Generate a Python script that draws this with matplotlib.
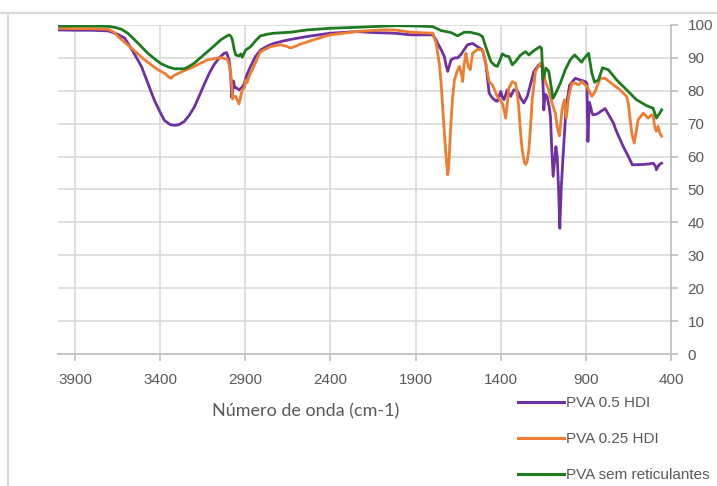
import matplotlib
matplotlib.use("Agg")
import matplotlib.pyplot as plt
from matplotlib.lines import Line2D

# PVA 0.5 HDI
wn_05 = [3997, 3900, 3800, 3705, 3650, 3608, 3560, 3510, 3470, 3433, 3400, 3375, 3340, 3316, 3290,
         3258, 3230, 3200, 3170, 3141, 3110, 3083, 3050, 3024, 3010, 2995, 2985, 2980, 2975, 2970,
         2962, 2956, 2937, 2920, 2908, 2890, 2869, 2840, 2810, 2770, 2733, 2680, 2635, 2538, 2402,
         2246, 2150, 2023, 1925, 1799, 1780, 1770, 1750, 1731, 1720, 1711, 1700, 1692, 1670, 1653,
         1634, 1615, 1595, 1565, 1536, 1507, 1488, 1478, 1468, 1449, 1430, 1420, 1400, 1390, 1381,
         1361, 1342, 1322, 1303, 1283, 1264, 1244, 1225, 1205, 1176, 1157, 1150, 1147, 1140, 1128,
         1115, 1108, 1100, 1092, 1085, 1076, 1068, 1060, 1053, 1045, 1034, 1022, 1014, 995, 962,
         933, 904, 894, 888, 880, 871, 865, 859, 836, 787, 738, 723, 680, 650, 627,
         563, 525, 505, 490, 486, 476, 466, 455]
t_05 = [98.5, 98.4, 98.4, 98.2, 97.2, 96.0, 92.0, 87.4, 82.0, 77.0, 73.5, 71.0, 69.7, 69.5, 69.7,
        70.7, 72.5, 75.0, 78.5, 82.0, 85.5, 88.0, 90.2, 91.4, 91.6, 89.4, 84.0, 78.0, 79.5, 83.0,
        81.0, 81.0, 80.3, 81.0, 82.0, 85.0, 87.4, 90.5, 92.4, 93.6, 94.4, 95.1, 95.6, 96.5, 97.5,
        98.0, 97.7, 97.5, 97.0, 97.0, 95.5, 94.4, 92.5, 90.4, 87.5, 85.9, 88.0, 89.4, 90.0, 90.0,
        91.0, 92.5, 94.0, 94.4, 93.4, 92.4, 88.4, 84.0, 79.3, 77.8, 77.0, 76.8, 79.8, 78.0, 77.3,
        80.3, 78.3, 80.3, 80.1, 77.8, 76.3, 78.3, 82.0, 85.9, 87.9, 87.4, 80.0, 74.2, 79.0, 78.3,
        75.0, 72.2, 62.0, 54.0, 58.0, 63.0, 60.0, 50.0, 38.2, 50.0, 60.0, 70.0, 76.0, 81.8, 83.8,
        83.3, 82.8, 82.3, 64.6, 76.5, 75.0, 73.5, 72.7, 72.9, 74.6, 70.2, 68.0, 63.0, 60.0, 57.5,
        57.6, 57.8, 58.0, 57.0, 56.0, 57.0, 57.7, 58.0]

# PVA 0.25 HDI
wn_025 = [3997, 3900, 3800, 3705, 3670, 3647, 3610, 3569, 3530, 3491, 3450, 3413, 3370, 3345, 3336,
          3320, 3297, 3260, 3219, 3170, 3122, 3080, 3044, 3005, 2990, 2980, 2975, 2968, 2956, 2945,
          2937, 2928, 2918, 2905, 2898, 2890, 2879, 2850, 2830, 2811, 2752, 2694, 2660, 2635, 2600,
          2587, 2499, 2402, 2246, 2110, 2023, 1925, 1799, 1779, 1760, 1750, 1731, 1718, 1711, 1704,
          1696, 1684, 1672, 1655, 1643, 1630, 1624, 1615, 1604, 1597, 1591, 1579, 1572, 1565, 1536,
          1507, 1488, 1468, 1449, 1420, 1391, 1380, 1371, 1362, 1352, 1332, 1313, 1300, 1293, 1283,
          1274, 1262, 1254, 1245, 1235, 1225, 1215, 1196, 1167, 1153, 1138, 1118, 1099, 1079, 1068,
          1060, 1055, 1048, 1040, 1027, 1015, 1001, 982, 962, 943, 923, 894, 865, 845, 816,
          787, 738, 700, 661, 650, 642, 630, 616, 605, 593, 563, 534, 515, 505, 496,
          486, 476, 466, 455]
t_025 = [99.0, 98.9, 98.9, 98.7, 97.8, 96.5, 94.8, 93.0, 91.2, 89.4, 87.8, 86.4, 85.2, 84.0, 83.8,
         84.6, 85.2, 86.1, 86.9, 88.2, 89.4, 89.8, 90.1, 89.6, 87.0, 82.0, 77.5, 78.3, 78.3, 77.0,
         76.0, 78.0, 80.3, 81.0, 83.3, 82.5, 84.3, 87.4, 89.8, 91.9, 93.4, 94.0, 93.6, 93.0, 93.6,
         94.0, 95.5, 97.0, 98.0, 98.5, 98.5, 97.8, 97.5, 94.4, 88.0, 82.3, 67.2, 58.0, 54.5, 58.0,
         67.2, 77.0, 83.3, 86.0, 87.4, 85.0, 82.8, 88.0, 91.4, 89.0, 87.4, 86.4, 89.0, 91.4, 92.6,
         92.4, 88.4, 82.8, 81.8, 78.3, 76.3, 74.0, 71.7, 76.0, 80.8, 82.8, 82.3, 78.0, 74.2, 67.0,
         62.1, 58.5, 57.6, 58.5, 62.0, 69.0, 77.3, 85.9, 88.4, 87.9, 82.8, 80.3, 76.3, 73.2, 69.0,
         67.2, 66.3, 70.0, 74.2, 77.3, 71.7, 78.3, 82.3, 82.3, 81.8, 82.8, 81.3, 78.3, 79.8, 83.8,
         83.8, 81.8, 80.3, 78.3, 76.0, 72.2, 67.0, 64.1, 67.5, 71.2, 73.2, 71.7, 72.7, 72.4, 69.2,
         67.7, 69.2, 67.2, 66.2]

# PVA sem reticulantes
wn_0 = [3997, 3900, 3800, 3705, 3660, 3627, 3590, 3550, 3510, 3472, 3430, 3394, 3350, 3316, 3258,
        3230, 3200, 3160, 3122, 3080, 3044, 3010, 2995, 2985, 2976, 2965, 2956, 2937, 2926, 2918,
        2898, 2869, 2840, 2811, 2770, 2733, 2635, 2538, 2402, 2246, 2110, 2023, 1900, 1799, 1750,
        1692, 1653, 1614, 1580, 1556, 1530, 1507, 1488, 1458, 1435, 1420, 1404, 1391, 1371, 1352,
        1332, 1313, 1283, 1254, 1235, 1205, 1170, 1160, 1152, 1134, 1118, 1093, 1079, 1050, 1021,
        992, 966, 925, 914, 884, 865, 849, 826, 802, 768, 719, 661, 603, 544, 505,
        486, 476, 466, 455]
t_0 = [99.7, 99.7, 99.7, 99.6, 99.2, 98.7, 97.5, 95.5, 93.4, 91.4, 89.6, 88.2, 87.2, 86.7, 86.7,
       87.4, 88.4, 90.2, 91.9, 93.8, 95.5, 96.6, 97.0, 96.6, 95.5, 92.5, 90.9, 90.6, 91.2, 90.2,
       92.4, 93.4, 95.2, 96.7, 97.2, 97.5, 97.8, 98.5, 99.0, 99.3, 99.6, 99.8, 99.7, 99.5, 98.3,
       97.7, 96.7, 97.8, 97.8, 97.5, 97.2, 96.5, 93.4, 88.9, 87.7, 87.4, 89.4, 91.2, 90.6, 90.4,
       87.9, 88.9, 90.9, 91.9, 90.9, 92.2, 93.4, 92.9, 83.5, 86.9, 85.9, 77.7, 79.0, 82.3, 86.4,
       89.4, 90.9, 88.7, 89.6, 91.4, 85.4, 82.6, 83.3, 87.0, 86.4, 83.3, 80.3, 77.3, 75.5, 74.7,
       71.7, 72.5, 73.2, 74.2]

labels = ["PVA 0.5 HDI", "PVA 0.25 HDI", "PVA sem reticulantes"]
colors = ["#7030A0", "#ED7D31", "#1E7A1E"]
x_ticks = [3900, 3400, 2900, 2400, 1900, 1400, 900, 400]

plt.rcParams['font.family'] = ['Liberation Sans Narrow', 'Liberation Sans', 'DejaVu Sans']
grey = "#595959"
grid_c = "#D9D9D9"

fig = plt.figure(figsize=(7.17, 4.86), dpi=100)
ax = fig.add_axes([58 / 717, 1 - 354 / 486, (671 - 58) / 717, (354 - 25) / 486])

series = [(wn_05, t_05), (wn_025, t_025), (wn_0, t_0)]
for (wn, t), c in zip(series, colors):
    ax.plot(wn, t, color=c, lw=2.0, solid_joinstyle='round', zorder=3)

ax.set_xlim(4000, 400)
ax.set_ylim(0, 100)
ax.set_xticks(x_ticks)
ax.set_yticks(range(0, 101, 10))
ax.grid(True, color=grid_c, lw=1.2)
ax.set_axisbelow(True)

ax.yaxis.tick_right()
for s in ['top', 'left']:
    ax.spines[s].set_visible(False)
for s in ['right', 'bottom']:
    ax.spines[s].set_color("#BFBFBF")
    ax.spines[s].set_linewidth(1.2)
ax.tick_params(axis='both', colors="#BFBFBF", labelcolor=grey, labelsize=11, length=5, width=1.2)
ax.tick_params(axis='x', pad=9)
ax.tick_params(axis='y', pad=7)

fig.text(306 / 717, 1 - 411 / 486, "Número de onda (cm-1)", ha='center', va='center',
         fontsize=13, color=grey, family=['Lato', 'DejaVu Sans'])

handles = [Line2D([], [], color=c, lw=2.2) for c in colors]
fig.legend(handles, labels, loc='upper left', bbox_to_anchor=(518 / 717, 1 - 396 / 486),
           frameon=False, fontsize=11, labelcolor=grey, handlelength=3.0,
           handletextpad=0.15, labelspacing=1.45, borderpad=0, borderaxespad=0)

# chart area frame (cropped)
fig.add_artist(Line2D([0, 1], [1 - 13 / 486, 1 - 13 / 486], color=grid_c, lw=1.5))
fig.add_artist(Line2D([8 / 717, 8 / 717], [0, 1 - 13 / 486], color=grid_c, lw=1.5))

fig.savefig("out.png", dpi=100)
